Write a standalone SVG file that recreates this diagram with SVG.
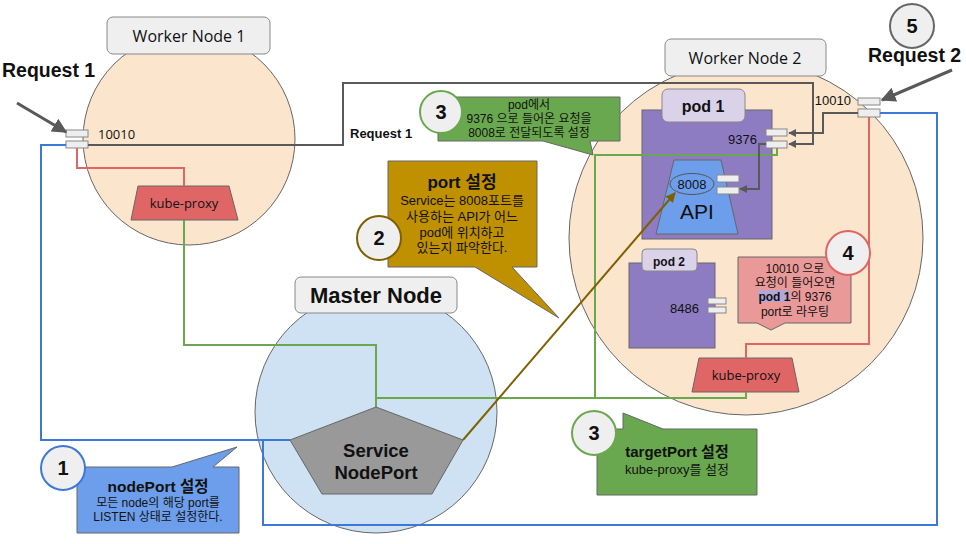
<svg xmlns="http://www.w3.org/2000/svg" width="966" height="544" viewBox="0 0 966 544">
<defs>
<style>
.sans{font-family:"Liberation Sans",Arial,"Noto Sans CJK KR",sans-serif;}
.open{font-family:"Open Sans","Liberation Sans","Noto Sans CJK KR",sans-serif;}
.kr{font-family:"Liberation Sans",Arial,"Noto Sans CJK KR",sans-serif;}
.b{font-weight:bold;}
.wnode{fill:#fce5cd;stroke:#666;stroke-width:1;}
.mnode{fill:#cfe2f3;stroke:#666;stroke-width:1;}
.lbl{fill:#efefef;stroke:#888;stroke-width:1;}
.port{fill:#eeeeee;stroke:#888;stroke-width:1;}
.kp{fill:#e06666;stroke:#666;stroke-width:1;}
.pod{fill:#8e7cc3;stroke:#666;stroke-width:1;}
.podlbl{fill:#d9d2e9;stroke:#888;stroke-width:1;}
.gray{fill:none;stroke:#595959;stroke-width:2;}
.blue{fill:none;stroke:#3c78d8;stroke-width:2;}
.green{fill:none;stroke:#6aa84f;stroke-width:2;}
.red{fill:none;stroke:#e06666;stroke-width:2;}
.brown{fill:none;stroke:#7f6000;stroke-width:2;}
.num{fill:#efefef;stroke-width:2;}
.co{stroke:#666;stroke-width:1;}
</style>
<marker id="ah" viewBox="0 0 10 10" refX="9" refY="5" markerWidth="5" markerHeight="5" orient="auto" markerUnits="strokeWidth">
<path d="M0,0 L10,5 L0,10 z" fill="#595959"/>
</marker>
<marker id="ahb" viewBox="0 0 10 10" refX="9" refY="5" markerWidth="4" markerHeight="4" orient="auto" markerUnits="strokeWidth">
<path d="M0,0 L10,5 L0,10 z" fill="#595959"/>
</marker>
<marker id="ahbr" viewBox="0 0 10 10" refX="9" refY="5" markerWidth="5" markerHeight="5" orient="auto" markerUnits="strokeWidth">
<path d="M0,0 L10,5 L0,10 z" fill="#7f6000"/>
</marker>
</defs>
<rect width="966" height="544" fill="#ffffff"/>

<g id="worker-node-1">
<circle class="wnode" cx="189" cy="139" r="106"/>
<rect class="lbl" x="107" y="17" width="163" height="37" rx="6"/>
<text class="open" x="189" y="42" font-size="16" text-anchor="middle" fill="#111">Worker Node 1</text>
<rect class="port" x="66" y="130" width="22" height="7"/>
<rect class="port" x="66" y="141" width="22" height="7"/>
<text class="open" x="98" y="139" font-size="13" fill="#111">10010</text>
</g>

<g id="kube-proxy-1">
<polygon class="kp" points="138,186 229,186 238,220 131,220"/>
<text class="open" x="184" y="208" font-size="13" text-anchor="middle" fill="#111">kube-proxy</text>
</g>

<g id="worker-node-2">
<circle class="wnode" cx="746" cy="238" r="177"/>
<rect class="lbl" x="665" y="39" width="161" height="37" rx="6"/>
<text class="open" x="745" y="64" font-size="16" text-anchor="middle" fill="#111">Worker Node 2</text>
<rect class="port" x="858" y="98" width="22" height="7"/>
<rect class="port" x="858" y="109" width="22" height="8"/>
<text class="sans" x="851" y="105" font-size="13" text-anchor="end" fill="#111">10010</text>
</g>

<g id="pod-1">
<rect class="pod" x="642" y="110" width="130" height="129"/>
<rect class="podlbl" x="662" y="89" width="83" height="33" rx="6"/>
<text class="sans b" x="703" y="112" font-size="16" text-anchor="middle" fill="#111">pod 1</text>
<text class="sans" x="757" y="144" font-size="13" text-anchor="end" fill="#111">9376</text>
<rect class="port" x="766" y="129" width="21" height="7"/>
<rect class="port" x="766" y="141" width="21" height="7"/>
</g>

<g id="api">
<polygon points="674,160 721,160 738,234 656,234" fill="#6d9eeb" stroke="#666" stroke-width="1"/>
<ellipse cx="692" cy="184" rx="22" ry="10.5" fill="none" stroke="#555" stroke-width="1"/>
<text class="sans" x="692" y="189" font-size="13" text-anchor="middle" fill="#111">8008</text>
<text class="sans" x="697" y="219" font-size="21" text-anchor="middle" fill="#111">API</text>
<rect class="port" x="717" y="175" width="22" height="7"/>
<rect class="port" x="717" y="187" width="22" height="7"/>
</g>

<g id="pod-2">
<rect class="pod" x="629" y="263" width="86" height="85"/>
<rect class="podlbl" x="642" y="249" width="55" height="22" rx="4"/>
<text class="sans b" x="669" y="266" font-size="12" text-anchor="middle" fill="#111">pod 2</text>
<text class="sans" x="699" y="313" font-size="13" text-anchor="end" fill="#111">8486</text>
<rect class="port" x="708" y="298" width="18" height="6"/>
<rect class="port" x="708" y="307" width="18" height="6"/>
</g>

<g id="kube-proxy-2">
<polygon class="kp" points="699,358 792,358 799,392 692,392"/>
<text class="open" x="746" y="380" font-size="13" text-anchor="middle" fill="#111">kube-proxy</text>
</g>

<g id="master-node">
<circle class="mnode" cx="376" cy="412" r="121"/>
<rect class="lbl" x="295" y="277" width="162" height="36" rx="6"/>
<text class="sans b" x="376" y="303" font-size="22" text-anchor="middle" fill="#111">Master Node</text>
</g>

<g id="connectors">
<polyline class="blue" points="66,145 41,145 41,440 290,440"/>
<polyline class="blue" points="880,113 937,113 937,525 263,525 263,440"/>
<polyline class="green" points="184,220 184,345 376,345 376,407"/>
<polyline class="green" points="376,398 746,398 746,392"/>
<polyline class="green" points="595,398 595,155 777,155 777,148"/>
<polyline class="red" points="77,148 77,168 184,168 184,186"/>
<polyline class="red" points="869,117 869,344 746,344 746,358"/>
<polyline class="gray" points="88,145 343,145 343,83 813,83 813,144 789,144" marker-end="url(#ahb)"/>
<polyline class="gray" points="858,113 823,113 823,133 789,133" marker-end="url(#ahb)"/>
<polyline class="gray" points="766,144 759,144 759,189 740,189" marker-end="url(#ahb)"/>
<line class="brown" x1="463" y1="440" x2="675" y2="193" marker-end="url(#ahbr)"/>
<line x1="17" y1="103" x2="66" y2="132" stroke="#595959" stroke-width="3" marker-end="url(#ah)"/>
<line x1="952" y1="70" x2="882" y2="100" stroke="#595959" stroke-width="3" marker-end="url(#ah)"/>
<text class="sans b" x="350" y="138" font-size="13" fill="#111">Request 1</text>
</g>

<g id="service-nodeport">
<polygon points="376,407 463,440 432,494 322,494 290,440" fill="#999999" stroke="#666" stroke-width="1"/>
<text class="sans b" x="376" y="457" font-size="18.5" text-anchor="middle" fill="#111">Service</text>
<text class="sans b" x="376" y="479" font-size="18.5" text-anchor="middle" fill="#111">NodePort</text>
</g>

<g id="request-1">
<text class="sans b" x="2" y="77" font-size="19.5" fill="#111">Request 1</text>
</g>

<g id="request-2">
<circle class="num" cx="912" cy="26" r="22" stroke="#666"/>
<text class="sans b" x="912" y="33" font-size="20" text-anchor="middle" fill="#111">5</text>
<text class="sans b" x="868" y="62" font-size="19.5" fill="#111">Request 2</text>
</g>

<g id="callout-1">
<polygon class="co" points="77,467 172,467 237,447 213,467 239,467 239,533 77,533" fill="#6d9eeb"/>
<circle class="num" cx="63" cy="468" r="22" stroke="#3c78d8"/>
<text class="sans b" x="63" y="475" font-size="20" text-anchor="middle" fill="#111">1</text>
<text class="kr b" x="158" y="492" font-size="15.5" text-anchor="middle" fill="#111">nodePort 설정</text>
<text class="kr" x="158" y="507" font-size="12" text-anchor="middle" fill="#111">모든 node의 해당 port를</text>
<text class="kr" x="158" y="521" font-size="12" text-anchor="middle" fill="#111">LISTEN 상태로 설정한다.</text>
</g>

<g id="callout-2">
<polygon class="co" points="388,161 537,161 537,267 512,267 559,318 475,267 388,267" fill="#bf9000"/>
<circle class="num" cx="379" cy="238" r="22" stroke="#7f6000"/>
<text class="sans b" x="379" y="245" font-size="20" text-anchor="middle" fill="#111">2</text>
<text class="kr b" x="462" y="188" font-size="17" text-anchor="middle" fill="#111">port 설정</text>
<text class="kr" x="462" y="205" font-size="13" text-anchor="middle" fill="#111">Service는 8008포트를</text>
<text class="kr" x="462" y="221" font-size="13" text-anchor="middle" fill="#111">사용하는 API가 어느</text>
<text class="kr" x="462" y="237" font-size="13" text-anchor="middle" fill="#111">pod에 위치하고</text>
<text class="kr" x="462" y="252" font-size="13" text-anchor="middle" fill="#111">있는지 파악한다.</text>
</g>

<g id="callout-3-top">
<polygon class="co" points="438,97 620,97 620,141 590,141 593,155 543,141 438,141" fill="#6aa84f"/>
<circle class="num" cx="441" cy="112" r="21" stroke="#6aa84f"/>
<text class="sans b" x="441" y="119" font-size="20" text-anchor="middle" fill="#111">3</text>
<text class="kr" x="529" y="109" font-size="12" text-anchor="middle" fill="#111">pod에서</text>
<text class="kr" x="529" y="123" font-size="12" text-anchor="middle" fill="#111">9376 으로 들어온 요청을</text>
<text class="kr" x="529" y="137" font-size="12" text-anchor="middle" fill="#111">8008로 전달되도록 설정</text>
</g>

<g id="callout-4">
<polygon class="co" points="738,257 851,257 851,323 785,323 771,330 757,323 738,323" fill="#ea9999"/>
<rect x="758" y="290" width="31" height="12" fill="#b4a7d6"/>
<circle class="num" cx="848" cy="253" r="22" stroke="#e06666"/>
<text class="sans b" x="848" y="260" font-size="20" text-anchor="middle" fill="#111">4</text>
<text class="kr" x="795" y="273" font-size="12" text-anchor="middle" fill="#111">10010 으로</text>
<text class="kr" x="795" y="287" font-size="12" text-anchor="middle" fill="#111">요청이 들어오면</text>
<text class="kr" x="795" y="301" font-size="12" text-anchor="middle" fill="#111"><tspan font-weight="bold">pod 1</tspan>의 9376</text>
<text class="kr" x="795" y="316" font-size="12" text-anchor="middle" fill="#111">port로 라우팅</text>
</g>

<g id="callout-3-bottom">
<polygon class="co" points="597,429 623,429 623,413 663,429 757,429 757,495 597,495" fill="#6aa84f"/>
<circle class="num" cx="594" cy="433" r="22" stroke="#6aa84f"/>
<text class="sans b" x="594" y="440" font-size="20" text-anchor="middle" fill="#111">3</text>
<text class="kr b" x="677" y="457" font-size="15" text-anchor="middle" fill="#111">targetPort 설정</text>
<text class="kr" x="677" y="474" font-size="13" text-anchor="middle" fill="#111">kube-proxy를 설정</text>
</g>
</svg>
